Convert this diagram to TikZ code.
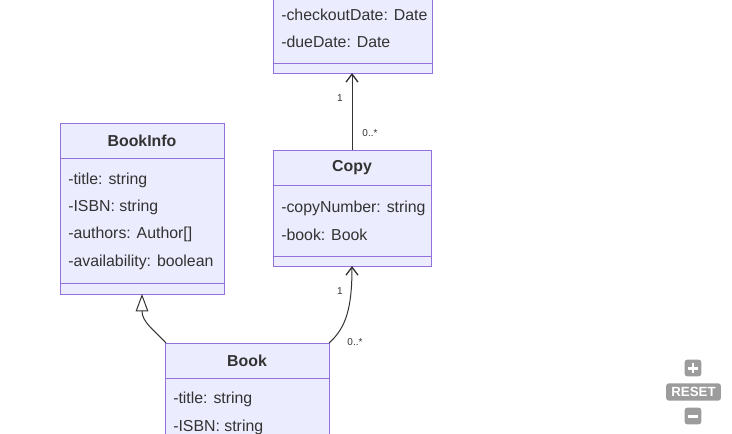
\documentclass[tikz,border=0pt]{standalone}
\usepackage{fontspec}
\setmainfont{Liberation Sans}
\usetikzlibrary{arrows.meta}
\definecolor{cfill}{HTML}{ECECFF}
\definecolor{cline}{HTML}{9370DB}
\definecolor{ctext}{HTML}{333333}
\definecolor{btn}{HTML}{9C9C9C}
\begin{document}
\begin{tikzpicture}[x=0.75pt,y=-0.75pt,
  classbox/.style={draw=cline,fill=cfill,line width=0.65pt},
  sepline/.style={draw=cline,line width=0.65pt},
  attr/.style={anchor=west,inner sep=0pt,font=\fontsize{11.9}{14}\selectfont,text=ctext},
  ttl/.style={inner sep=0pt,font=\fontsize{11.9}{14}\selectfont\bfseries,text=ctext},
  mult/.style={inner sep=0pt,font=\fontsize{7.5}{9}\selectfont,text=ctext},
  conn/.style={draw=ctext,line width=0.75pt},
  btnbox/.style={fill=btn,rounded corners=2pt,inner sep=0pt}
]
\useasboundingbox (0,0) rectangle (732,433);
\fill[white] (0,0) rectangle (732,433);

% Loan (cropped top box)
\path[classbox] (273,-20) rectangle (432,73);
\draw[sepline] (273,63) -- (432,63);
\node[attr] (l1) at (281,15) {-checkoutDate: Date};
\node[attr] (l2) at (281,42) {-dueDate: Date};
\coordinate (loanb) at (352,73);

% BookInfo
\path[classbox] (60,123) rectangle (224,294);
\draw[sepline] (60,158) -- (224,158);
\draw[sepline] (60,283) -- (224,283);
\node[ttl] (bit) at (142,141) {BookInfo};
\node[attr] (bi1) at (68,180) {-title: string};
\node[attr] (bi2) at (68,207) {-ISBN: string};
\node[attr] (bi3) at (68,234) {-authors: Author[]};
\node[attr] (bi4) at (68,262) {-availability: boolean};
\coordinate (bib) at (142,294);

% Copy
\path[classbox] (273,150) rectangle (431,266);
\draw[sepline] (273,185) -- (431,185);
\draw[sepline] (273,256) -- (431,256);
\node[ttl] (ct) at (352,168) {Copy};
\node[attr] (c1) at (281,208) {-copyNumber: string};
\node[attr] (c2) at (281,235) {-book: Book};
\coordinate (copyt) at (352,150);
\coordinate (copyb) at (352,266);

% Book
\path[classbox] (165,343) rectangle (329,460);
\draw[sepline] (165,378) -- (329,378);
\node[ttl] (bt) at (247,361) {Book};
\node[attr] (b1) at (173,399) {-title: string};
\node[attr] (b2) at (173,427) {-ISBN: string};
\coordinate (bookl) at (166,343);
\coordinate (bookr) at (329,343);

% connectors
\draw[conn,-{Straight Barb[length=6pt,width=9pt,line width=1pt]}] (copyt) -- (loanb);
\node[mult] (m1) at (340,98) {1};
\node[mult] (m2) at (370,133) {0..*};

\draw[conn,-{Straight Barb[length=6pt,width=9pt,line width=1pt]}] (bookr) .. controls (346,328) and (352,308) .. (copyb);
\node[mult] (m3) at (340,291) {1};
\node[mult] (m4) at (355,342) {0..*};

\draw[conn,-{Triangle[open,length=13pt,width=9.5pt]}] (bookl) .. controls (154,330) and (142,322) .. (bib);

% zoom buttons
\node[btnbox,minimum width=12.5pt,minimum height=12.5pt] (plus) at (693,368) {};
\fill[white] (688,367) rectangle (698,369.5);
\fill[white] (691.8,363) rectangle (694.3,373);
\node[btnbox,minimum width=41pt,minimum height=13pt,text=white,font=\fontsize{10}{10}\selectfont\bfseries] (reset) at (693.5,392) {RESET};
\node[btnbox,minimum width=12.5pt,minimum height=12.5pt] (minus) at (693,416) {};
\fill[white] (688,415) rectangle (698,417.5);
\end{tikzpicture}
\end{document}
